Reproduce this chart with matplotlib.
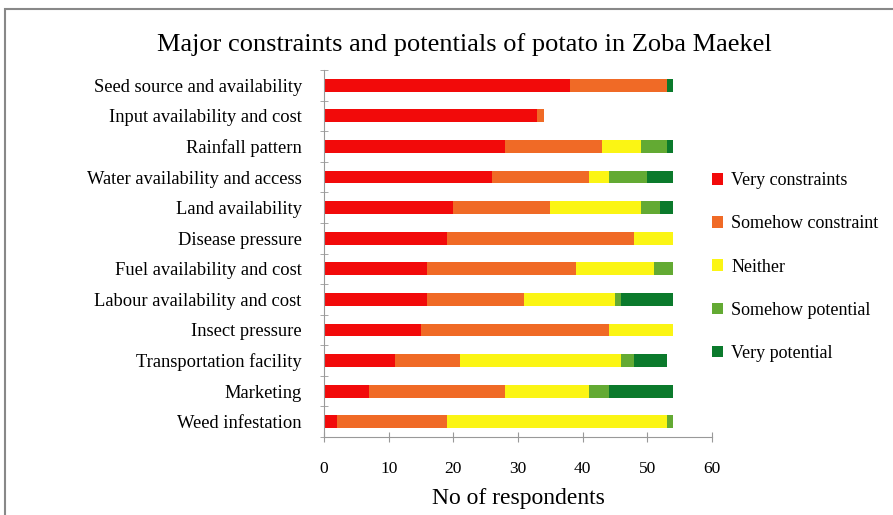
import numpy as np
import matplotlib.pyplot as plt
from matplotlib.patches import Rectangle

plt.rcParams['font.family'] = ['Liberation Serif', 'DejaVu Serif']

categories = ['Seed source and availability', 'Input availability and cost',
              'Rainfall pattern', 'Water availability and access',
              'Land availability', 'Disease pressure',
              'Fuel availability and cost', 'Labour availability and cost',
              'Insect pressure', 'Transportation facility', 'Marketing',
              'Weed infestation']
very_constraints = [38, 33, 28, 26, 20, 19, 16, 16, 15, 11, 7, 2]
somehow_constraint = [15, 1, 15, 15, 15, 29, 23, 15, 29, 10, 21, 17]
neither = [0, 0, 6, 3, 14, 6, 12, 14, 10, 25, 13, 34]
somehow_potential = [0, 0, 4, 6, 3, 0, 3, 1, 0, 2, 3, 1]
very_potential = [1, 0, 1, 4, 2, 0, 0, 8, 0, 5, 10, 0]

series = [('Very constraints', very_constraints, '#f20a0a'),
          ('Somehow constraint', somehow_constraint, '#f06a26'),
          ('Neither', neither, '#fbf514'),
          ('Somehow potential', somehow_potential, '#63aa33'),
          ('Very potential', very_potential, '#0b7a2c')]

fig = plt.figure(figsize=(8.93, 5.15), dpi=100)
ax = fig.add_axes([324 / 893, 1 - 437 / 515, (712 - 324) / 893, (437 - 70) / 515])

y = np.arange(len(categories))
left = np.zeros(len(categories))
for name, vals, col in series:
    vals = np.array(vals, dtype=float)
    ax.barh(y, vals, left=left, height=0.42, color=col, label=name)
    left += vals

ax.set_ylim(len(categories) - 0.5, -0.5)
ax.set_xlim(0, 60)
ax.set_xticks(range(0, 61, 10))
ax.set_yticks(y)
ax.set_yticklabels(categories, fontsize=13.3)
ax.set_yticks(np.arange(-0.5, len(categories), 1), minor=True)
ax.tick_params(axis='y', which='major', length=0, pad=16)
ax.tick_params(axis='y', which='minor', length=6, direction='inout', color='#999999')
ax.tick_params(axis='x', length=7, direction='inout', color='#999999', labelsize=12.5, pad=14)
for s in ['top', 'right']:
    ax.spines[s].set_visible(False)
for s in ['left', 'bottom']:
    ax.spines[s].set_color('#999999')

ax.set_xlabel('No of respondents', fontsize=17, labelpad=8)
fig.text(464 / 893, 1 - 45 / 515, 'Major constraints and potentials of potato in Zoba Maekel',
         ha='center', va='center', fontsize=19)

ax.legend(loc='center left', bbox_to_anchor=(0.982, 0.463), frameon=False,
          fontsize=13, handlelength=0.6, handleheight=0.6, labelspacing=1.45,
          handletextpad=0.45, borderaxespad=0.0)

fig.patches.append(Rectangle((5 / 893, -0.1), 1.2, 1.1 - 9 / 515, transform=fig.transFigure,
                             fill=False, edgecolor='#888888', linewidth=1.5))

fig.savefig('out.png', dpi=100)
